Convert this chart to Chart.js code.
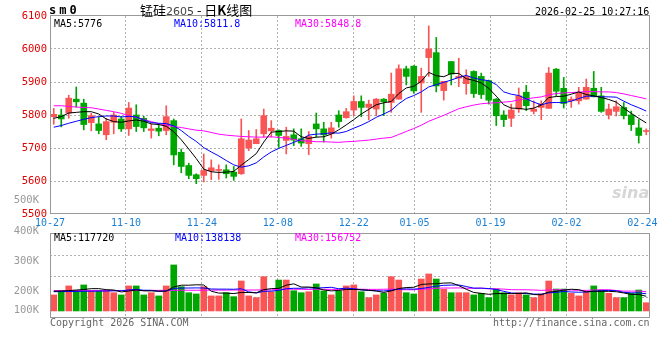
<!DOCTYPE html>
<html>
<head>
<meta charset="utf-8">
<script src="https://cdn.jsdelivr.net/npm/chart.js@4.4.1/dist/chart.umd.min.js"></script>
<style>
  body { margin: 0; background: #fff; }
  #wrap { position: relative; width: 660px; height: 360px; overflow: hidden; font-family: 'DejaVu Sans Mono', monospace; font-size: 10px; }
  canvas { position: absolute; left: 0; }
  #kline { top: 0; }
  #vol { top: 190px; }
  .txt { position: absolute; white-space: pre; line-height: 12px; z-index: 2; }
</style>
</head>
<body>
<div id="wrap">
  <canvas id="kline" width="660" height="232"></canvas>
  <canvas id="vol" width="660" height="170"></canvas>

  <div class="txt" style="left:49px;top:4px;font-weight:bold;font-size:12px;letter-spacing:3px">sm0</div>
  <div class="txt" style="left:140px;top:2px;line-height:15px;font-family:'Noto Sans CJK SC';font-size:13px">锰硅<span style="font-family:'DejaVu Sans';font-size:11px;color:#444">2605</span> - 日<b>K</b>线图</div>
  <div class="txt" style="left:535px;top:6px">2026-02-25 10:27:16</div>

  <div class="txt" style="left:54px;top:18px;color:#000">MA5:5776</div>
  <div class="txt" style="left:174px;top:18px;color:#0000ff">MA10:5811.8</div>
  <div class="txt" style="left:295px;top:18px;color:#ff00ff">MA30:5848.8</div>

  <div class="txt" style="left:54px;top:232px;color:#000">MA5:117720</div>
  <div class="txt" style="left:175px;top:232px;color:#0000ff">MA10:138138</div>
  <div class="txt" style="left:295px;top:232px;color:#ff00ff">MA30:156752</div>

  <div class="txt" style="left:612px;top:184px;font-family:'DejaVu Sans';font-style:italic;font-weight:bold;font-size:16px;line-height:18px;color:#d6d6d6">sina</div>

  <div class="txt" style="left:50px;top:317px;color:#666">Copyright 2026 SINA.COM</div>
  <div class="txt" style="left:493px;top:317px;color:#666">http://finance.sina.com.cn</div>
</div>

<script>
// trading days shown on the chart
const dates = [
    '10-27','10-28','10-29','10-30','10-31',
    '11-03','11-04','11-05','11-06','11-07',
    '11-10','11-11','11-12','11-13','11-14',
    '11-17','11-18','11-19','11-20','11-21',
    '11-24','11-25','11-26','11-27','11-28',
    '12-01','12-02','12-03','12-04','12-05',
    '12-08','12-09','12-10','12-11','12-12',
    '12-15','12-16','12-17','12-18','12-19',
    '12-22','12-23','12-24','12-25','12-26',
    '12-29','12-30','12-31',
    '01-05','01-06','01-07','01-08','01-09',
    '01-12','01-13','01-14','01-15','01-16',
    '01-19','01-20','01-21','01-22','01-23',
    '01-26','01-27','01-28','01-29','01-30',
    '02-02','02-03','02-04','02-05','02-06',
    '02-09','02-10','02-11','02-12','02-13',
    '02-24','02-25'
];
const shownDates = ['10-27','11-10','11-24','12-08','12-22','01-05','01-19','02-02','02-24'];
const gridDates = ['11-10','11-24','12-08','12-22','01-05','01-19','02-02'];

const opens = [
    5795,5800,5806,5848,5836,5777,5773,5740,5778,5788,
    5758,5800,5790,5753,5760,5753,5783,5687,5647,5619,
    5617,5631,5632,5634,5627,5622,5700,5713,5743,5752,
    5753,5723,5740,5728,5713,5773,5758,5743,5800,5792,
    5815,5841,5823,5818,5848,5838,5848,5940,5948,5897,
    5974,5989,5874,5962,5912,5895,5932,5917,5904,5848,
    5800,5790,5818,5869,5811,5823,5820,5939,5881,5843,
    5843,5848,5881,5858,5801,5811,5823,5800,5761,5750
];
const highs = [
    5820,5818,5860,5885,5848,5805,5794,5790,5808,5796,
    5838,5831,5796,5773,5773,5828,5788,5697,5654,5622,
    5682,5664,5649,5649,5644,5788,5753,5756,5818,5783,
    5755,5763,5758,5758,5750,5806,5778,5778,5813,5820,
    5858,5858,5845,5850,5850,5927,5952,5948,5950,5942,
    6070,6035,5902,5962,5972,5937,5934,5927,5906,5850,
    5813,5833,5882,5890,5843,5843,5944,5941,5914,5855,
    5884,5909,5932,5884,5833,5843,5838,5812,5786,5758
];
const lows = [
    5772,5764,5790,5824,5755,5752,5743,5725,5743,5750,
    5738,5750,5750,5730,5737,5740,5649,5625,5607,5592,
    5597,5604,5605,5609,5602,5620,5692,5713,5733,5733,
    5702,5682,5707,5705,5680,5733,5718,5730,5763,5790,
    5798,5795,5785,5798,5798,5808,5848,5891,5866,5808,
    5917,5870,5845,5891,5886,5863,5853,5850,5833,5768,
    5765,5765,5808,5813,5803,5786,5820,5858,5821,5823,
    5833,5848,5855,5808,5788,5797,5788,5753,5715,5740
];
const closes = [
    5802,5788,5851,5840,5771,5798,5753,5780,5800,5758,
    5821,5765,5761,5758,5751,5795,5679,5644,5617,5607,
    5632,5640,5635,5622,5614,5728,5724,5728,5798,5760,
    5738,5735,5724,5715,5735,5758,5740,5761,5780,5810,
    5841,5823,5833,5848,5840,5863,5940,5917,5873,5917,
    6000,5888,5902,5924,5917,5917,5865,5862,5845,5798,
    5786,5815,5858,5828,5818,5833,5927,5872,5835,5848,
    5869,5884,5855,5811,5818,5825,5798,5771,5738,5750
];

const ma5 = [
    5790,5795,5806,5808,5810,5810,5803,5788,5780,5778,
    5782,5785,5781,5773,5771,5766,5749,5725,5697,5668,
    5636,5628,5626,5627,5629,5648,5665,5683,5718,5748,
    5750,5752,5751,5734,5729,5733,5734,5742,5755,5770,
    5786,5803,5817,5831,5837,5841,5865,5882,5887,5902,
    5929,5919,5916,5926,5926,5910,5905,5897,5881,5857,
    5831,5821,5820,5817,5821,5830,5853,5856,5857,5863,
    5870,5862,5858,5853,5847,5839,5821,5805,5790,5776
];
const ma10 = [
    5763,5768,5775,5781,5787,5792,5795,5797,5797,5794,
    5796,5794,5785,5777,5775,5774,5767,5753,5735,5720,
    5701,5688,5676,5662,5649,5642,5646,5655,5673,5688,
    5699,5708,5717,5726,5739,5742,5743,5746,5745,5750,
    5760,5769,5780,5793,5803,5814,5834,5850,5859,5870,
    5885,5892,5899,5906,5914,5920,5912,5907,5904,5892,
    5870,5863,5859,5849,5839,5831,5837,5838,5837,5842,
    5850,5857,5857,5855,5855,5854,5842,5831,5822,5812
];
const ma30 = [
    5828,5828,5826,5824,5823,5822,5818,5814,5810,5805,
    5798,5793,5786,5780,5774,5769,5765,5762,5758,5754,
    5752,5747,5742,5739,5737,5735,5734,5733,5733,5734,
    5732,5730,5726,5722,5721,5719,5719,5718,5717,5719,
    5720,5722,5724,5727,5730,5732,5741,5750,5759,5769,
    5781,5790,5799,5809,5819,5825,5830,5834,5836,5837,
    5839,5841,5846,5849,5852,5855,5861,5865,5867,5868,
    5869,5871,5871,5870,5870,5868,5864,5859,5854,5849
];

// volume, in thousands
const volumesK = [
    130,162,203,164,211,164,164,164,148,130,
    203,203,130,148,122,203,373,197,148,138,
    197,122,122,148,116,243,122,108,278,156,
    251,251,164,148,156,219,162,130,162,203,
    211,156,108,130,143,278,251,148,138,259,
    300,259,176,148,148,148,130,143,108,178,
    148,130,148,130,108,138,243,178,178,143,
    122,156,203,170,143,108,108,143,170,67
];
const volMa5 = [
    160,162,165,170,174,181,181,173,170,154,
    162,170,163,163,161,161,195,209,209,212,
    211,160,145,145,141,150,150,147,173,181,
    183,209,220,194,194,188,170,163,166,175,
    174,172,168,162,150,163,182,190,192,215,
    219,221,226,228,206,176,150,143,135,141,
    141,141,142,147,133,131,153,159,169,176,
    173,155,160,159,159,156,146,134,134,119
];
const volMa10 = [
    156,157,158,158,160,160,161,162,163,164,
    171,175,168,167,158,162,182,186,186,187,
    186,178,177,177,176,180,155,146,159,161,
    167,180,184,184,188,185,189,192,180,185,
    181,171,166,164,162,168,177,179,177,182,
    191,201,208,210,211,198,185,185,182,174,
    159,146,143,141,137,136,147,151,158,154,
    152,154,160,164,167,164,151,147,147,139
];
const volMa30 = [
    165,165,165,165,165,165,165,165,166,166,
    166,166,166,167,167,167,167,168,168,168,
    168,169,169,169,170,170,170,170,171,171,
    175,178,176,176,174,176,176,175,175,177,
    178,176,175,175,176,178,174,172,172,176,
    179,184,186,186,187,184,184,185,179,180,
    177,173,172,172,170,167,170,172,172,170,
    167,167,170,172,172,166,161,161,162,156
];

// sina's volume axis labels sit on their own odd spacing
const volTickLabels = ['100K','200K','300K','400K','500K'];
const volTickValues = [8, 162, 405, 648, 899];

const RED = '#fa5555';
const GREEN = '#00a600';
const GRID = '#b0b0b0';
const FRAME = '#999999';
const MONO = "'DejaVu Sans Mono', monospace";

const candleColors = closes.map((c, i) => c >= opens[i] ? RED : GREEN);

// grey box around each panel
const framePlugin = {
    id: 'frame',
    afterDraw(chart) {
        const a = chart.chartArea;
        const ctx = chart.ctx;
        ctx.save();
        ctx.strokeStyle = FRAME;
        ctx.lineWidth = 1;
        ctx.strokeRect(Math.round(a.left) + 0.5, Math.round(a.top) - 0.5, Math.round(a.width) - 1, Math.round(a.height));
        ctx.restore();
    }
};

function maLine(label, data, color, order) {
    return {
        type: 'line',
        label: label,
        data: data,
        borderColor: color,
        borderWidth: 1,
        pointRadius: 0,
        tension: 0,
        fill: false,
        order: order,
        xAxisID: 'x',
        yAxisID: 'y'
    };
}

function dateGridAxis(height, showLabels) {
    return {
        type: 'category',
        position: 'bottom',
        labels: dates,
        offset: false,
        grid: {
            offset: false,
            drawTicks: false,
            color: c => gridDates.includes(dates[c.index]) ? GRID : 'transparent'
        },
        border: { display: false, dash: [2, 2] },
        ticks: {
            display: showLabels,
            autoSkip: false,
            maxRotation: 0,
            padding: 3,
            color: '#1a7fd4',
            font: { family: MONO, size: 10 },
            callback: (v, i) => shownDates.includes(dates[i]) ? dates[i] : ''
        },
        afterFit: s => { s.height = height; s.paddingLeft = 0; s.paddingRight = 0; }
    };
}

// price panel
new Chart(document.getElementById('kline'), {
    type: 'bar',
    data: {
        labels: dates,
        datasets: [
            maLine('MA5', ma5, '#000000', 1),
            maLine('MA10', ma10, '#0000ff', 2),
            maLine('MA30', ma30, '#ff00ff', 3),
            {
                type: 'bar',
                label: 'body',
                data: opens.map((o, i) => [o, closes[i]]),
                backgroundColor: candleColors,
                barThickness: 6,
                minBarLength: 1,
                grouped: false,
                order: 4,
                xAxisID: 'x',
                yAxisID: 'y'
            },
            {
                type: 'bar',
                label: 'wick',
                data: lows.map((l, i) => [l, highs[i]]),
                backgroundColor: candleColors,
                barThickness: 1,
                grouped: false,
                order: 5,
                xAxisID: 'x',
                yAxisID: 'y'
            }
        ]
    },
    options: {
        responsive: false,
        animation: false,
        devicePixelRatio: 1,
        layout: { padding: { top: 16, right: 10, left: 0, bottom: 0 } },
        plugins: { legend: { display: false }, tooltip: { enabled: false } },
        scales: {
            x: { type: 'category', display: false, offset: true },
            xg: dateGridAxis(18, true),
            y: {
                min: 5500,
                max: 6100,
                ticks: {
                    stepSize: 100,
                    color: '#e00000',
                    padding: 3,
                    font: { family: MONO, size: 10.5 },
                    callback: v => String(v)
                },
                grid: {
                    drawTicks: false,
                    color: c => (c.tick.value > 5500 && c.tick.value < 6100) ? GRID : 'transparent'
                },
                border: { display: false, dash: [2, 2] },
                afterFit: s => { s.width = 50; s.paddingTop = 0; s.paddingBottom = 0; }
            }
        }
    },
    plugins: [framePlugin]
});

// volume panel
new Chart(document.getElementById('vol'), {
    type: 'bar',
    data: {
        labels: dates,
        datasets: [
            maLine('MA5', volMa5, '#000000', 1),
            maLine('MA10', volMa10, '#0000ff', 2),
            maLine('MA30', volMa30, '#ff00ff', 3),
            {
                type: 'bar',
                label: 'volume',
                data: volumesK,
                backgroundColor: candleColors,
                barThickness: 6,
                order: 4,
                xAxisID: 'x',
                yAxisID: 'y'
            }
        ]
    },
    options: {
        responsive: false,
        animation: false,
        devicePixelRatio: 1,
        layout: { padding: { top: 44, right: 10, left: 0, bottom: 0 } },
        plugins: { legend: { display: false }, tooltip: { enabled: false } },
        scales: {
            x: { type: 'category', display: false, offset: true },
            xg: dateGridAxis(42, false),
            y: {
                min: -57,
                max: 624,
                position: 'left',
                ticks: { display: false },
                grid: { drawTicks: false, color: GRID },
                border: { display: false, dash: [2, 2] },
                // panel split in quarters
                afterBuildTicks: s => { s.ticks = [1, 2, 3].map(k => ({ value: s.min + k * (s.max - s.min) / 4 })); },
                afterFit: s => { s.width = 0; s.paddingTop = 0; s.paddingBottom = 0; }
            },
            yl: {
                min: -57,
                max: 624,
                position: 'left',
                grid: { display: false },
                border: { display: false },
                ticks: {
                    autoSkip: false,
                    padding: 3,
                    color: '#999999',
                    font: { family: MONO, size: 10.5 },
                    callback: (v, i) => volTickLabels[i]
                },
                afterBuildTicks: s => { s.ticks = volTickValues.map(v => ({ value: v })); },
                afterFit: s => { s.width = 50; s.paddingTop = 0; s.paddingBottom = 0; }
            }
        }
    },
    plugins: [framePlugin]
});
</script>
</body>
</html>
